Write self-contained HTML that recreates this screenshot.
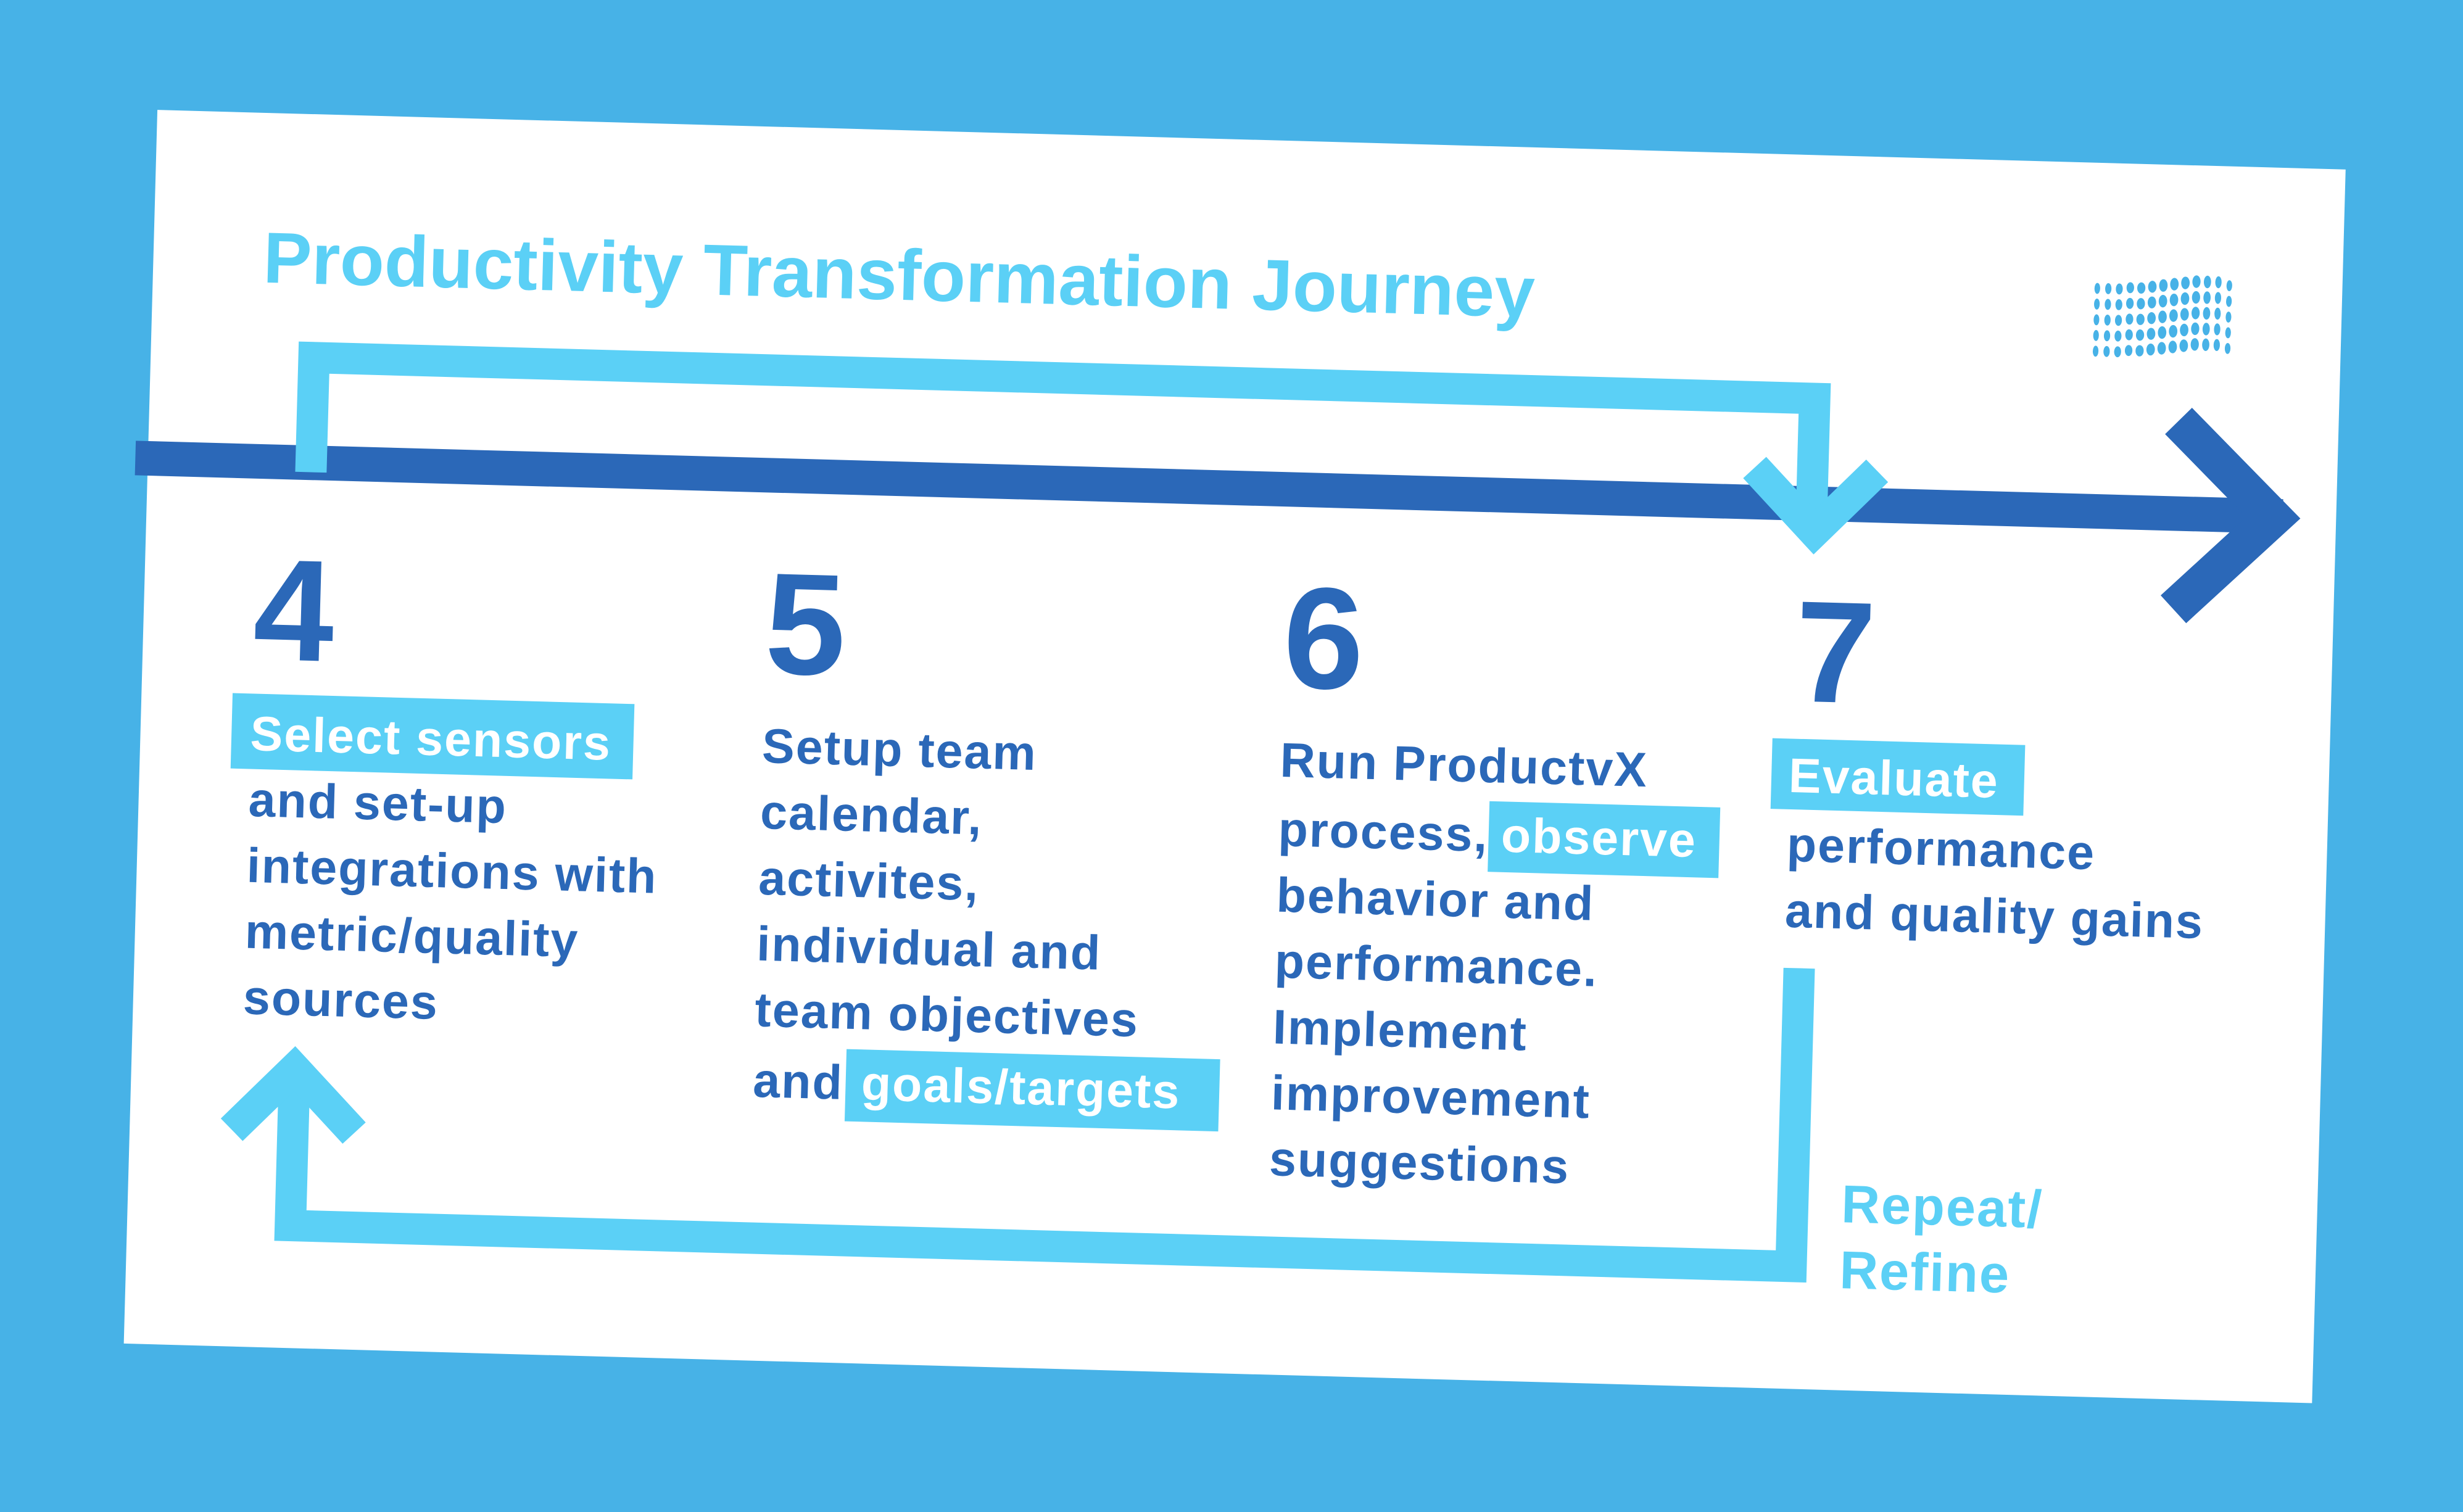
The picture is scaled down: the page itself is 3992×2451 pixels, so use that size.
<!DOCTYPE html>
<html><head><meta charset="utf-8"><style>
html,body{margin:0;padding:0;background:#47b2e7;}
svg{display:block;}
text{font-family:"Liberation Sans",sans-serif;font-weight:bold;}
</style></head><body>
<svg width="3992" height="2451" viewBox="0 0 1568 963" xmlns="http://www.w3.org/2000/svg">
<rect width="1568" height="963" fill="#47b2e7"/>
<g transform="translate(100,70) rotate(1.56)">
  <rect x="0" y="0" width="1394" height="786" fill="#ffffff"/>
  <text x="70" y="108" font-size="46" fill="#5bd0f6" textLength="810" lengthAdjust="spacingAndGlyphs">Productivity Transformation Journey</text>
  <!-- logo -->
  <g fill="#47b2e7">
    <g id="r">
      <ellipse cx="1238" cy="80" rx="1.8" ry="3.5"/><ellipse cx="1245" cy="80" rx="2" ry="3.5"/><ellipse cx="1252" cy="80" rx="2.2" ry="3.5"/><ellipse cx="1259" cy="79" rx="2.4" ry="3.5"/><ellipse cx="1266" cy="79" rx="2.6" ry="3.6"/><ellipse cx="1273" cy="78" rx="2.7" ry="3.8"/><ellipse cx="1280" cy="77" rx="2.7" ry="4"/><ellipse cx="1287" cy="76" rx="2.7" ry="4"/><ellipse cx="1294" cy="75" rx="2.7" ry="4"/><ellipse cx="1301" cy="74" rx="2.6" ry="4"/><ellipse cx="1308" cy="74" rx="2.3" ry="4"/><ellipse cx="1315" cy="74" rx="2" ry="3.8"/><ellipse cx="1322" cy="76" rx="1.8" ry="3.5"/>
    </g>
    <use href="#r" y="10"/><use href="#r" y="20"/><use href="#r" y="30"/><use href="#r" y="40"/>
  </g>
  <!-- dark timeline -->
  <line x1="-8" y1="222" x2="1360" y2="222" stroke="#2b68b8" stroke-width="22"/>
  <polyline points="1292,163 1354,223 1292,283" fill="none" stroke="#2b68b8" stroke-width="24"/>
  <!-- top loop -->
  <polyline points="104,228 104,155 1060,155 1060,238" fill="none" stroke="#5bd0f6" stroke-width="20"/>
  <polyline points="1023,200 1062,240 1101,200" fill="none" stroke="#5bd0f6" stroke-width="20"/>
  <!-- bottom loop -->
  <polyline points="1060,518 1060,708 104,708 104,614" fill="none" stroke="#5bd0f6" stroke-width="20"/>
  <polyline points="65,648 104,608 143,648" fill="none" stroke="#5bd0f6" stroke-width="20"/>
  <!-- numbers -->
  <g font-size="92" fill="#2b68b8">
    <text x="70" y="348">4</text><text x="396" y="348">5</text><text x="726" y="348">6</text><text x="1052" y="348">7</text>
  </g>
  <!-- highlights -->
  <g fill="#5bd0f6">
    <rect x="58" y="370" width="256" height="48"/>
    <rect x="455" y="586" width="238" height="46"/>
    <rect x="860" y="417" width="147" height="45"/>
    <rect x="1039" y="372" width="161" height="45"/>
  </g>
  <g font-size="31" fill="#2b68b8" letter-spacing="0.8">
    <text x="70" y="406" fill="#fff">Select sensors</text>
    <text x="70" y="448">and set-up</text>
    <text x="70" y="490">integrations with</text>
    <text x="70" y="532">metric/quality</text>
    <text x="70" y="574">sources</text>

    <text x="396" y="405">Setup team</text>
    <text x="396" y="447">calendar,</text>
    <text x="396" y="489">activites,</text>
    <text x="396" y="531">individual and</text>
    <text x="396" y="573">team objectives</text>
    <text x="396" y="618">and <tspan x="465" fill="#fff">goals/targets</tspan></text>

    <text x="726" y="405">Run ProductvX</text>
    <text x="726" y="449">process, <tspan x="868" fill="#fff">observe</tspan></text>
    <text x="726" y="491">behavior and</text>
    <text x="726" y="533">performance.</text>
    <text x="726" y="575">Implement</text>
    <text x="726" y="617">improvement</text>
    <text x="726" y="659">suggestions</text>

    <text x="1050" y="406" fill="#fff">Evaluate</text>
    <text x="1050" y="450">performance</text>
    <text x="1050" y="492">and quality gains</text>
  </g>
  <g font-size="34" fill="#5bd0f6" letter-spacing="0.8">
    <text x="1091" y="679">Repeat/</text>
    <text x="1091" y="721">Refine</text>
  </g>
</g>
</svg>
</body></html>
